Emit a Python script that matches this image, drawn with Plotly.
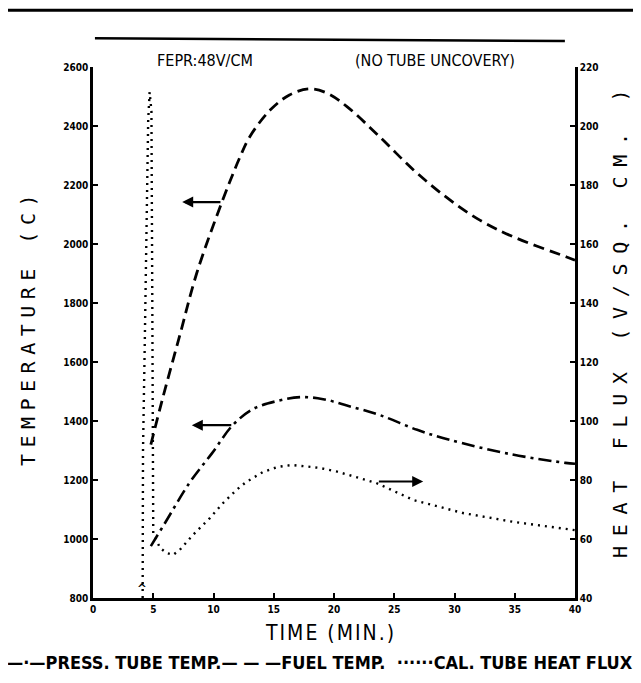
import plotly.graph_objects as go

# ---- data ----
time_press = [4.8, 6.0, 8.05, 9.9, 11.6, 13.3, 15.3, 17.2, 19.1, 21.2, 23.8, 26.9, 29.6, 34.6, 39.2, 40.0]
press_temp = [976, 1056, 1193, 1292, 1386, 1441, 1468, 1481, 1474, 1451, 1420, 1370, 1336, 1288, 1258, 1255]

time_fuel = [4.8, 5.8, 7.2, 8.6, 10.7, 12.2, 13.0, 14.7, 16.3, 18.0, 19.5, 21.1, 23.8, 26.6, 29.4, 32.1, 34.9, 39.3, 40.0]
fuel_temp = [1320, 1480, 1690, 1900, 2142, 2295, 2363, 2454, 2505, 2526, 2510, 2465, 2363, 2251, 2156, 2081, 2024, 1956, 1945]

time_flux = [4.12, 4.15, 4.3, 4.5, 4.58, 4.7, 4.85, 4.92, 4.96, 5.0, 5.56, 6.1, 6.65, 7.2, 8.3,
             9.7, 10.8, 11.9, 12.7, 14.1, 15.3, 16.5, 17.7, 18.8, 20.2, 21.2, 23.5, 26.6, 30.7, 34.9, 39.2, 40.0]
heat_flux = [40, 90, 127.5, 175, 202, 211.5, 205, 141, 90, 62, 57, 55.3, 54.6, 56.3, 61.4,
             67.1, 72.2, 76.6, 79.3, 82.7, 84.4, 85.1, 84.6, 84.1, 82.9, 81.7, 79.0, 73.2, 68.8, 65.8, 63.4, 63.0]

x_ticks = [0, 5, 10, 15, 20, 25, 30, 35, 40]
temp_ticks = [800, 1000, 1200, 1400, 1600, 1800, 2000, 2200, 2400, 2600]
flux_ticks = [40, 60, 80, 100, 120, 140, 160, 180, 200, 220]

names = ["PRESS. TUBE TEMP.", "FUEL TEMP.", "CAL. TUBE HEAT FLUX"]
legend_text = "—·—PRESS. TUBE TEMP.— — —FUEL TEMP.  ······CAL. TUBE HEAT FLUX"

x_title = "TIME (MIN.)"
y_title = "TEMPERATURE (C)"
y2_title = "HEAT FLUX (V/SQ. CM. )"

# arrows: (tail_x, head_x, y)
arrow_fuel = (10.7, 7.4, 2142)
arrow_press = (11.6, 8.2, 1386)
arrow_flux = (23.6, 27.4, 79.5)

COND = "DejaVu Sans Condensed, Liberation Sans Narrow, DejaVu Sans, sans-serif"
MONO = "DejaVu Sans Mono, Liberation Mono, monospace"
tickfont = dict(family=COND, size=10, color="black", weight="bold")

fig = go.Figure()
fig.add_trace(go.Scatter(x=time_press, y=press_temp, mode="lines", name=names[0],
                         line=dict(color="black", width=2.6, dash="13px,5px,3px,5px", shape="spline", smoothing=1.0)))
fig.add_trace(go.Scatter(x=time_fuel, y=fuel_temp, mode="lines", name=names[1],
                         line=dict(color="black", width=2.8, dash="11px,6px", shape="spline", smoothing=1.0)))
fig.add_trace(go.Scatter(x=time_flux, y=heat_flux, mode="lines", name=names[2], yaxis="y2",
                         line=dict(color="black", width=2.4, dash="2px,5px")))

axis_common = dict(showline=True, linecolor="black", linewidth=2.5, ticks="inside", ticklen=5,
                   tickwidth=2, tickcolor="black", showgrid=False, zeroline=False, tickfont=tickfont,
                   automargin=False)

# the page body has an 8px margin: the figure is sized/offset so the plot area lands at
# x 93..575, y 67..598 of the 641x683 window
fig.update_layout(
    width=625, height=667,
    margin=dict(l=85, r=58, t=59, b=77, autoexpand=False),
    paper_bgcolor="white", plot_bgcolor="white",
    xaxis=dict(range=[0, 40], tickvals=x_ticks, **axis_common),
    yaxis=dict(range=[800, 2600], tickvals=temp_ticks, **axis_common),
    yaxis2=dict(range=[40, 220], tickvals=flux_ticks, overlaying="y", side="right", **axis_common),
    showlegend=False,
)

anns = [
    dict(text="FEPR:48V/CM", x=0.232, y=1.013, xref="paper", yref="paper", showarrow=False,
         xanchor="center", yanchor="middle", font=dict(family=COND, size=16, color="black")),
    dict(text="(NO TUBE UNCOVERY)", x=0.71, y=1.013, xref="paper", yref="paper", showarrow=False,
         xanchor="center", yanchor="middle", font=dict(family=COND, size=16, color="black")),
    dict(text="^", x=4.07, y=832, xref="x", yref="y", showarrow=False,
         font=dict(family=COND, size=13, color="black", weight="bold")),
    # axis titles
    dict(text='<span style="letter-spacing:2px">' + x_title + '</span>', x=0.492, y=-0.066,
         xref="paper", yref="paper", showarrow=False, xanchor="center", yanchor="middle",
         font=dict(family=COND, size=21, color="black")),
    dict(text='<span style="letter-spacing:6.5px">' + y_title + '</span>', x=-0.135, y=0.51,
         xref="paper", yref="paper", showarrow=False, xanchor="center", yanchor="middle", textangle=-90,
         font=dict(family=MONO, size=20, color="black")),
    dict(text='<span style="letter-spacing:9.7px">' + y2_title + '</span>', x=1.093, y=0.525,
         xref="paper", yref="paper", showarrow=False, xanchor="center", yanchor="middle", textangle=-90,
         font=dict(family=MONO, size=20, color="black")),
    # legend line
    dict(text=legend_text, x=0.471, y=-0.122, xref="paper", yref="paper", showarrow=False,
         xanchor="center", yanchor="middle", font=dict(family=COND, size=18, color="black", weight="bold")),
]
for tail, head, yv in [arrow_fuel, arrow_press]:
    anns.append(dict(x=head, y=yv, ax=tail, ay=yv, xref="x", yref="y", axref="x", ayref="y",
                     text="", showarrow=True, arrowhead=2, arrowsize=1, arrowwidth=2.2, arrowcolor="black"))
anns.append(dict(x=arrow_flux[1], y=arrow_flux[2], ax=arrow_flux[0], ay=arrow_flux[2],
                 xref="x", yref="y2", axref="x", ayref="y2",
                 text="", showarrow=True, arrowhead=2, arrowsize=1, arrowwidth=2.2, arrowcolor="black"))
fig.update_layout(annotations=anns)

fig.add_shape(type="line", xref="paper", yref="paper", x0=-0.2, x1=1.14, y0=1.107, y1=1.107,
              line=dict(color="black", width=3))
fig.add_shape(type="line", xref="paper", yref="paper", x0=0.004, x1=0.979, y0=1.054, y1=1.049,
              line=dict(color="black", width=2.5))

fig.write_html("out.html")
